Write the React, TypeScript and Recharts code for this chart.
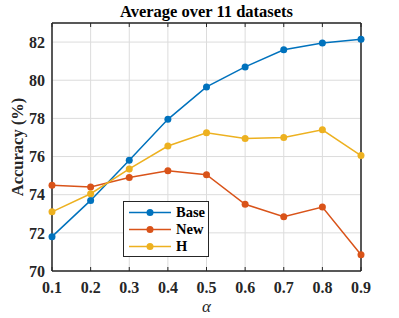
import { LineChart, Line, XAxis, YAxis, CartesianGrid } from "recharts";

// alpha values on the x axis
const alphas = [0.1, 0.2, 0.3, 0.4, 0.5, 0.6, 0.7, 0.8, 0.9];
const baseAcc = [71.8, 73.7, 75.8, 77.95, 79.65, 80.7, 81.6, 81.95, 82.15];
const newAcc = [74.5, 74.4, 74.9, 75.25, 75.05, 73.5, 72.85, 73.35, 70.85];
const hAcc = [73.1, 74.05, 75.35, 76.55, 77.25, 76.95, 77.0, 77.4, 76.05];
const yTicks = [70, 72, 74, 76, 78, 80, 82];

const series = [
  { key: "Base", values: baseAcc, color: "#0072BD" },
  { key: "New", values: newAcc, color: "#D95319" },
  { key: "H", values: hAcc, color: "#EDB120" },
];

const data = alphas.map((a, i) => ({
  alpha: a,
  Base: baseAcc[i],
  New: newAcc[i],
  H: hAcc[i],
}));

const FONT = "'Liberation Serif', 'Times New Roman', serif";
const AXIS = "#262626";
const blank = () => "";

// MATLAB-like legend box
const LegendBox = () => (
  <div
    style={{
      position: "absolute",
      left: 123,
      top: 201,
      border: `1px solid ${AXIS}`,
      background: "#fff",
      width: 86,
      height: 56,
      boxSizing: "border-box",
      paddingTop: 2,
    }}
  >
    {series.map((s) => (
      <div key={s.key} style={{ display: "flex", alignItems: "center", height: 17 }}>
        <svg width={48} height={17} style={{ marginLeft: 4 }}>
          <line x1={1} y1={8.5} x2={43} y2={8.5} stroke={s.color} strokeWidth={1.5} />
          <circle cx={22} cy={8.5} r={3.5} fill={s.color} />
        </svg>
        <span style={{ fontFamily: FONT, fontWeight: "bold", fontSize: 14.5, color: "#000", lineHeight: "17px" }}>
          {s.key}
        </span>
      </div>
    ))}
  </div>
);

export default function App() {
  return (
    <div style={{ position: "absolute", left: 0, top: 0, width: 399, height: 318, background: "#fff", fontFamily: FONT }}>
      <div
        style={{
          position: "absolute",
          left: 52,
          width: 309,
          top: 4,
          textAlign: "center",
          fontWeight: "bold",
          fontSize: 16.5,
          lineHeight: "16.5px",
          color: "#000",
        }}
      >
        Average over 11 datasets
      </div>
      <LineChart
        width={399}
        height={318}
        data={data}
        margin={{ top: 23, right: 38, bottom: 0, left: 0 }}
      >
        <CartesianGrid stroke="#dcdcdc" strokeWidth={1} xAxisId="x" yAxisId="y" />
        {/* main axes with labels */}
        <XAxis
          xAxisId="x"
          dataKey="alpha"
          type="number"
          domain={[0.1, 0.9]}
          ticks={alphas}
          tickFormatter={(v: number) => v.toFixed(1)}
          height={47}
          tickSize={0}
          tickMargin={11}
          tickLine={false}
          axisLine={{ stroke: AXIS, strokeWidth: 1.5 }}
          tick={{ fill: "#262626", fontSize: 16, fontWeight: "bold", fontFamily: FONT }}
          label={{ value: "α", position: "insideBottom", offset: 6, fill: "#262626", fontSize: 17, fontStyle: "italic", fontFamily: FONT }}
        />
        <YAxis
          yAxisId="y"
          type="number"
          domain={[70, 83]}
          ticks={yTicks}
          width={52}
          tickSize={0}
          tickMargin={7}
          tickLine={false}
          axisLine={{ stroke: AXIS, strokeWidth: 1.5 }}
          tick={{ fill: "#262626", fontSize: 16, fontWeight: "bold", fontFamily: FONT }}
          label={{
            content: ({ viewBox }: any) => (
              <text
                x={viewBox.x + 17}
                y={viewBox.y + viewBox.height / 2}
                transform={`rotate(-90, ${viewBox.x + 17}, ${viewBox.y + viewBox.height / 2})`}
                textAnchor="middle"
                dominantBaseline="central"
                fontFamily={FONT}
                fontWeight="bold"
                fontSize={16.5}
                fill="#262626"
              >
                Accuracy (%)
              </text>
            ),
          }}
        />
        {/* mirrored axes: inward ticks and box */}
        <XAxis xAxisId="xb" dataKey="alpha" type="number" domain={[0.1, 0.9]} ticks={alphas} orientation="bottom" mirror
          tickSize={4} tickFormatter={blank} axisLine={false} tickLine={{ stroke: AXIS, strokeWidth: 1 }} />
        <XAxis xAxisId="xt" dataKey="alpha" type="number" domain={[0.1, 0.9]} ticks={alphas} orientation="top" mirror
          tickSize={4} tickFormatter={blank} axisLine={{ stroke: AXIS, strokeWidth: 1.5 }} tickLine={{ stroke: AXIS, strokeWidth: 1 }} />
        <YAxis yAxisId="yl" type="number" domain={[70, 83]} ticks={yTicks} orientation="left" mirror
          tickSize={4} tickFormatter={blank} axisLine={false} tickLine={{ stroke: AXIS, strokeWidth: 1 }} />
        <YAxis yAxisId="yr" type="number" domain={[70, 83]} ticks={yTicks} orientation="right" mirror
          tickSize={4} tickFormatter={blank} axisLine={{ stroke: AXIS, strokeWidth: 1.5 }} tickLine={{ stroke: AXIS, strokeWidth: 1 }} />
        {series.map((s) => (
          <Line
            key={s.key}
            xAxisId="x"
            yAxisId="y"
            dataKey={s.key}
            stroke={s.color}
            strokeWidth={1.5}
            dot={{ r: 3.5, fill: s.color, stroke: s.color, strokeWidth: 0 }}
            activeDot={false}
            isAnimationActive={false}
          />
        ))}
      </LineChart>
      <LegendBox />
    </div>
  );
}
